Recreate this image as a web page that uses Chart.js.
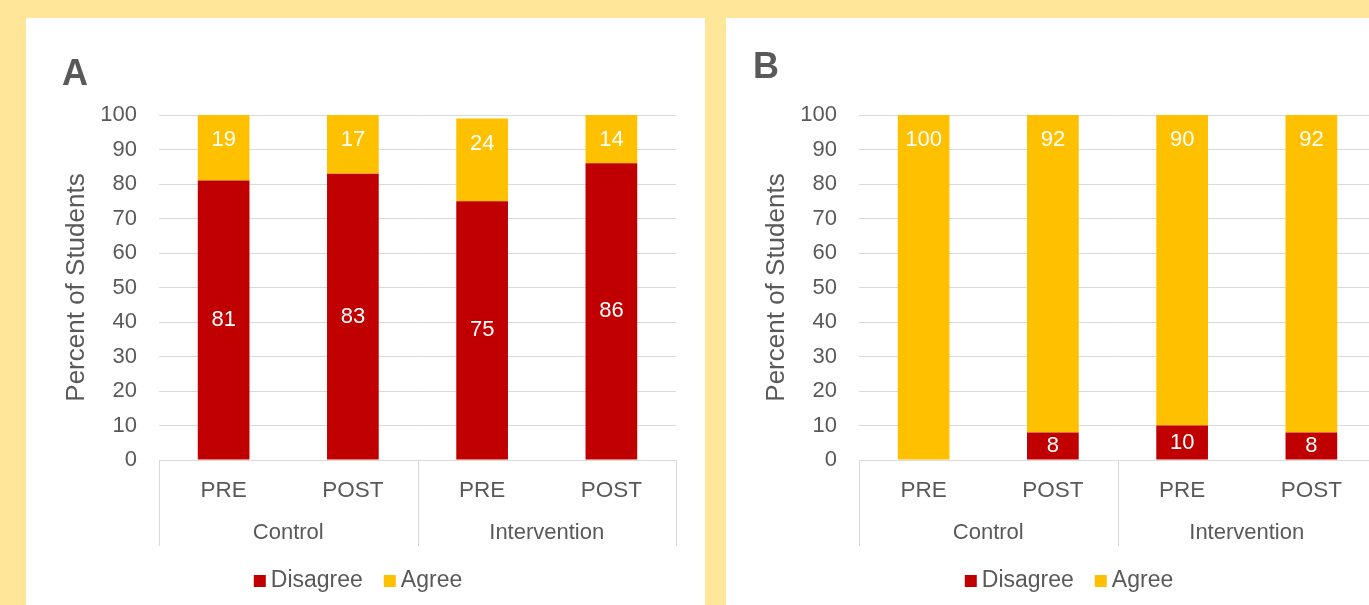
<!DOCTYPE html>
<html>
<head>
<meta charset="utf-8">
<script src="https://cdn.jsdelivr.net/npm/chart.js@4/dist/chart.umd.min.js"></script>
<style>
  html, body {
    margin: 0;
    padding: 0;
    width: 1369px;
    height: 605px;
    overflow: hidden;
    background: #FFE699;
    font-family: "Liberation Sans", Arial, sans-serif;
  }
  .panel {
    position: absolute;
    top: 18px;
    width: 679px;
    height: 587px;
    background: #FFFFFF;
  }
  .panel canvas {
    position: absolute;
    left: 0;
    top: 0;
  }
  .letter {
    position: absolute;
    font-size: 36px;
    line-height: 1;
    font-weight: bold;
    color: #595959;
  }
  .legend {
    position: absolute;
    top: 550px;
    font-size: 23px;
    line-height: 1;
    color: #595959;
    white-space: nowrap;
    transform: translateX(-50%);
  }
  .legend .item { margin-right: 21px; }
  .legend .item:last-child { margin-right: 0; }
  .legend .swatch {
    display: inline-block;
    width: 12px;
    height: 12px;
    margin-right: 5px;
    vertical-align: baseline;
  }
</style>
</head>
<body>
<div class="panel" id="panelA" style="left:26px">
  <canvas id="chartA" width="679" height="587"></canvas>
  <div class="letter" style="left:36px; top:37px">A</div>
  <div class="legend" id="legendA" style="left:332px"></div>
</div>
<div class="panel" id="panelB" style="left:726px">
  <canvas id="chartB" width="679" height="587"></canvas>
  <div class="letter" style="left:27px; top:30px">B</div>
  <div class="legend" id="legendB" style="left:343px"></div>
</div>

<script>
// DATA
const groups = ["Control", "Intervention"];
const phases = ["PRE", "POST", "PRE", "POST"];

const disagreeA = [81, 83, 75, 86];
const agreeA = [19, 17, 24, 14];

const disagreeB = [0, 8, 10, 8];
const agreeB = [100, 92, 90, 92];

const yTicks = { min: 0, max: 100, step: 10 };

// COLORS
const RED = "#C00000";
const GOLD = "#FFC000";
const TEXT = "#595959";
const GRID = "#D9D9D9";
const FONT = '"Liberation Sans", Arial, sans-serif';

// white value labels inside each stacked segment
const barValueLabels = {
  id: "barValueLabels",
  afterDatasetsDraw(chart) {
    const ctx = chart.ctx;
    ctx.save();
    ctx.font = "22px " + FONT;
    ctx.fillStyle = "#FFFFFF";
    ctx.textAlign = "center";
    ctx.textBaseline = "middle";
    chart.data.datasets.forEach((ds, i) => {
      const meta = chart.getDatasetMeta(i);
      meta.data.forEach((bar, j) => {
        const v = ds.data[j];
        if (!v) return;
        const y = ds.labelPos === "end" ? bar.y + 25 : (bar.y + bar.base) / 2;
        ctx.fillText(String(v), bar.x, y);
      });
    });
    ctx.restore();
  }
};

// second row of x labels (groups) with separator lines
const groupAxis = {
  id: "groupAxis",
  afterDraw(chart) {
    const { ctx, chartArea } = chart;
    const x = chart.scales.x;
    const per = phases.length / groups.length;
    const top = chartArea.bottom;
    const bottom = top + 86;

    ctx.save();
    ctx.strokeStyle = GRID;
    ctx.lineWidth = 1;
    for (let g = 0; g <= groups.length; g++) {
      let px;
      if (g === 0) px = chartArea.left;
      else if (g === groups.length) px = chartArea.right;
      else px = (x.getPixelForValue(g * per - 1) + x.getPixelForValue(g * per)) / 2;
      px = Math.round(px) + 0.5;
      ctx.beginPath();
      ctx.moveTo(px, top);
      ctx.lineTo(px, bottom);
      ctx.stroke();
    }

    ctx.font = "22px " + FONT;
    ctx.fillStyle = TEXT;
    ctx.textAlign = "center";
    ctx.textBaseline = "middle";
    groups.forEach((name, g) => {
      const cx = (x.getPixelForValue(g * per) + x.getPixelForValue(g * per + per - 1)) / 2;
      ctx.fillText(name, cx, top + 72.5);
    });
    ctx.restore();
  }
};

// legend as html under the chart, built from the datasets
function buildLegend(chart, legendId) {
  const box = document.getElementById(legendId);
  chart.data.datasets.forEach((ds) => {
    const item = document.createElement("span");
    item.className = "item";
    item.innerHTML = `<span class="swatch" style="background:${ds.backgroundColor}"></span>${ds.label}`;
    box.appendChild(item);
  });
}

function buildChart(canvasId, legendId, disagree, agree) {
  const chart = new Chart(document.getElementById(canvasId), {
    type: "bar",
    data: {
      labels: phases,
      datasets: [
        { label: "Disagree", data: disagree, backgroundColor: RED, labelPos: "center" },
        { label: "Agree", data: agree, backgroundColor: GOLD, labelPos: "end" }
      ]
    },
    options: {
      responsive: false,
      animation: false,
      events: [],
      categoryPercentage: 1,
      barPercentage: 0.4,
      layout: { padding: { top: 97, right: 29, left: 0, bottom: 45 } },
      scales: {
        x: {
          stacked: true,
          grid: { display: false },
          border: { display: false },
          ticks: { color: TEXT, font: { family: FONT, size: 22.5 }, padding: 9 },
          afterFit: (scale) => { scale.height = 100; }
        },
        y: {
          stacked: true,
          min: yTicks.min,
          max: yTicks.max,
          grid: { color: GRID, lineWidth: 1, drawTicks: false },
          border: { display: false },
          ticks: {
            stepSize: yTicks.step,
            color: TEXT,
            font: { family: FONT, size: 22 },
            padding: 22
          },
          title: {
            display: true,
            text: "Percent of Students",
            color: TEXT,
            font: { family: FONT, size: 26 },
            padding: { top: 35, bottom: 0 }
          },
          afterFit: (scale) => { scale.width = 133; }
        }
      },
      plugins: {
        legend: { display: false },
        tooltip: { enabled: false }
      }
    },
    plugins: [barValueLabels, groupAxis]
  });
  buildLegend(chart, legendId);
  return chart;
}

buildChart("chartA", "legendA", disagreeA, agreeA);
buildChart("chartB", "legendB", disagreeB, agreeB);
</script>
</body>
</html>
